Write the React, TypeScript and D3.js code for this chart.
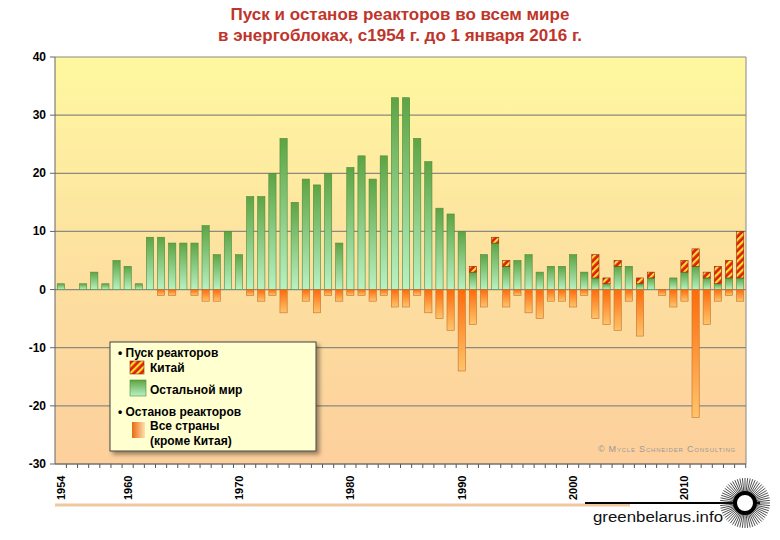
import * as d3 from "d3";

const years = d3.range(1954, 2016);
const restWorld = [1,0,1,3,1,5,4,1,9,9,8,8,8,11,6,10,6,16,16,20,26,15,19,18,20,8,21,23,19,23,33,33,26,22,14,13,10,3,6,8,4,5,6,3,4,4,6,3,2,1,4,4,1,2,0,2,3,4,2,1,2,2];
const china = [0,0,0,0,0,0,0,0,0,0,0,0,0,0,0,0,0,0,0,0,0,0,0,0,0,0,0,0,0,0,0,0,0,0,0,0,0,1,0,1,1,0,0,0,0,0,0,0,4,1,1,0,1,1,0,0,2,3,1,3,3,8];
const shutdowns = [0,0,0,0,0,0,0,0,0,-1,-1,0,-1,-2,-2,0,0,-1,-2,-1,-4,0,-2,-4,-1,-2,-1,-1,-2,-1,-3,-3,-1,-4,-5,-7,-14,-6,-3,0,-3,-1,-4,-5,-2,-2,-3,-1,-5,-6,-7,-2,-8,0,-1,-3,-2,-22,-6,-2,-1,-2];
const yTicks = [40, 30, 20, 10, 0, -10, -20, -30];
const decadeLabels = [1954, 1960, 1970, 1980, 1990, 2000, 2010];

export default function App() {
  const left = 55, right = 746, top = 57, bottom = 464;
  const x = d3.scaleBand<number>().domain(years).range([left, right]).paddingInner(0.35).paddingOuter(0.2);
  const y = d3.scaleLinear().domain([-30, 40]).range([bottom, top]);
  const bw = x.bandwidth();
  const font = "Arial, 'Liberation Sans', sans-serif";
  const rays = d3.range(0, 360, 6);
  return (
    <svg width={780} height={540} style={{ position: "absolute", left: 0, top: 0 }} fontFamily={font}>
      <defs>
        <linearGradient id="bg" x1="0" y1="0" x2="0" y2="1">
          <stop offset="0" stopColor="#fff8a0" />
          <stop offset="0.45" stopColor="#fde3a0" />
          <stop offset="1" stopColor="#fdcf9c" />
        </linearGradient>
        <linearGradient id="green" x1="0" y1="0" x2="0" y2="1">
          <stop offset="0" stopColor="#5da444" />
          <stop offset="1" stopColor="#b9f2c4" />
        </linearGradient>
        <linearGradient id="orange" x1="0" y1="0" x2="0" y2="1">
          <stop offset="0" stopColor="#ff6a0a" />
          <stop offset="1" stopColor="#ffc46a" />
        </linearGradient>
        <linearGradient id="orangeL" x1="0" y1="0" x2="1" y2="0">
          <stop offset="0" stopColor="#e86a10" />
          <stop offset="1" stopColor="#ffe0b0" />
        </linearGradient>
        <pattern id="china" patternUnits="userSpaceOnUse" width="5" height="5" patternTransform="rotate(45)">
          <rect width="5" height="5" fill="#e0200c" />
          <rect width="2.2" height="5" fill="#ffe030" />
        </pattern>
        <filter id="sh" x="-10%" y="-10%" width="130%" height="130%">
          <feDropShadow dx="3" dy="3" stdDeviation="2" floodColor="#000" floodOpacity="0.4" />
        </filter>
      </defs>
      <text x={400} y={20} textAnchor="middle" fontSize={17} fontWeight="bold" fill="#c0352a">Пуск и останов реакторов во всем мире</text>
      <text x={400} y={41} textAnchor="middle" fontSize={17} fontWeight="bold" fill="#c0352a">в энергоблоках, с1954 г. до 1 января 2016 г.</text>
      <rect x={left} y={top} width={right - left} height={bottom - top} fill="url(#bg)" />
      {yTicks.map((t) => (
        <g key={t}>
          <line x1={left} x2={right} y1={y(t)} y2={y(t)} stroke="#8a8a80" strokeWidth={1.2} />
          <line x1={left - 5} x2={left} y1={y(t)} y2={y(t)} stroke="#666" />
          <text x={left - 9} y={y(t) + 4} textAnchor="end" fontSize={12} fontWeight="bold">{t}</text>
        </g>
      ))}
      <line x1={left} x2={left} y1={top} y2={bottom} stroke="#666" />
      <line x1={right} x2={right} y1={top} y2={bottom} stroke="#888" />
      {years.map((yr, i) => {
        const bx = x(yr)!;
        return (
          <g key={yr}>
            {restWorld[i] > 0 && (
              <rect x={bx} y={y(restWorld[i])} width={bw} height={y(0) - y(restWorld[i])} fill="url(#green)" stroke="#4d8a3a" strokeWidth={0.6} />
            )}
            {china[i] > 0 && (
              <rect x={bx} y={y(restWorld[i] + china[i])} width={bw} height={y(restWorld[i]) - y(restWorld[i] + china[i])} fill="url(#china)" stroke="#8a2a10" strokeWidth={0.6} />
            )}
            {shutdowns[i] < 0 && (
              <rect x={bx} y={y(0)} width={bw} height={y(shutdowns[i]) - y(0)} fill="url(#orange)" stroke="#c07030" strokeWidth={0.6} />
            )}
            <line x1={bx + bw / 2 + x.step() / 2} x2={bx + bw / 2 + x.step() / 2} y1={bottom} y2={bottom + 4} stroke="#555" />
          </g>
        );
      })}
      <line x1={left} x2={right} y1={bottom} y2={bottom} stroke="#666" />
      {decadeLabels.map((d) => (
        <text key={d} transform={`translate(${x(d)! + bw / 2 + 4},${bottom + 36}) rotate(-90)`} fontSize={11} fontWeight="bold">{d}</text>
      ))}
      <text x={736} y={452} textAnchor="end" fontSize={9} fill="#999" letterSpacing={0.8} style={{ fontVariant: "small-caps" }}>© Mycle Schneider Consulting</text>
      <g filter="url(#sh)">
        <rect x={110} y={342} width={206} height={109} fill="#ffffd0" stroke="#444" />
      </g>
      <g fontSize={12} fontWeight="bold">
        <text x={118} y={357}>• Пуск реакторов</text>
        <rect x={130} y={361} width={14} height={13} fill="url(#china)" stroke="#8a2a10" strokeWidth={0.6} />
        <text x={150} y={372}>Китай</text>
        <rect x={130} y={380} width={16} height={16} fill="url(#green)" stroke="#4d8a3a" strokeWidth={0.6} />
        <text x={150} y={394}>Остальной мир</text>
        <text x={118} y={416}>• Останов реакторов</text>
        <rect x={132} y={422} width={13} height={16} fill="url(#orangeL)" />
        <text x={150} y={430}>Все страны</text>
        <text x={150} y={445}>(кроме Китая)</text>
      </g>
      <line x1={55} x2={630} y1={505} y2={505} stroke="#f0c8a0" strokeWidth={3} />
      <line x1={585} x2={760} y1={503} y2={503} stroke="#000" strokeWidth={2} />
      <text x={593} y={522} fontSize={15} fill="#111" textLength={130} lengthAdjust="spacingAndGlyphs">greenbelarus.info</text>
      <g transform="translate(745,503)">
        {rays.map((a) => (
          <line key={a} x1={0} y1={0} x2={25 * Math.cos((a * Math.PI) / 180)} y2={25 * Math.sin((a * Math.PI) / 180)} stroke="#222" strokeWidth={0.8} />
        ))}
        <circle r={10} fill="#fff" stroke="#000" strokeWidth={4} />
      </g>
    </svg>
  );
}
